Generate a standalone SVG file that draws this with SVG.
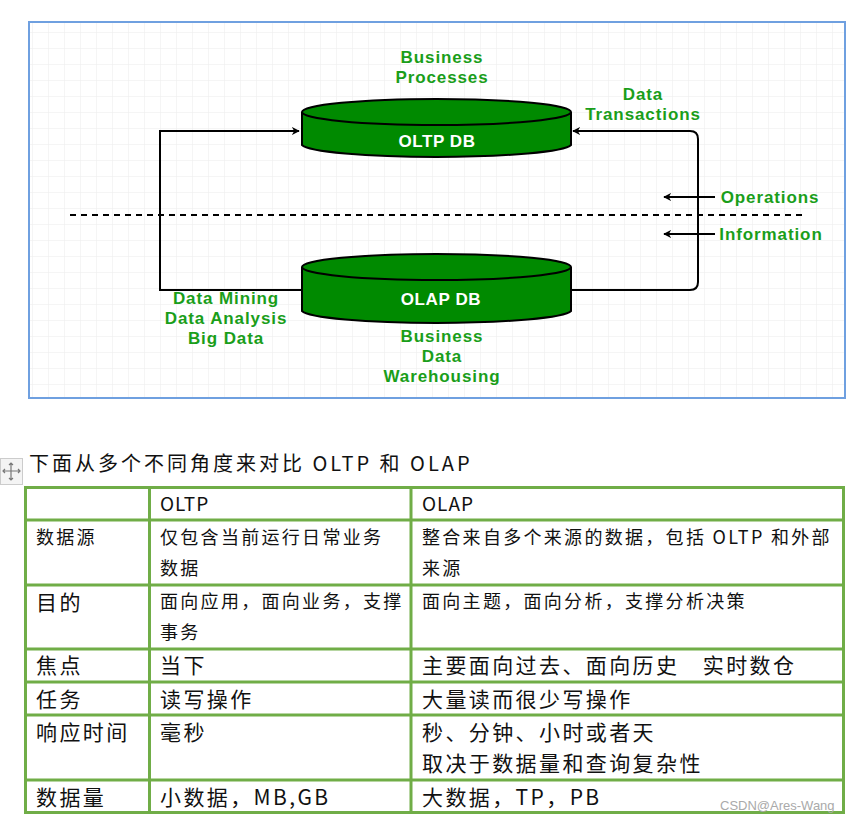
<svg xmlns="http://www.w3.org/2000/svg" width="857" height="825" viewBox="0 0 857 825">
<defs>
<pattern id="grid" width="16" height="16" patternUnits="userSpaceOnUse"><path d="M16 0H0V16" fill="none" stroke="#ebebeb" stroke-width="1"/></pattern>
<marker id="ah" viewBox="0 0 10 10" refX="9" refY="5" markerWidth="8" markerHeight="8" orient="auto" markerUnits="userSpaceOnUse"><path d="M0 0L10 5L0 10L3 5Z" fill="#000"/></marker>
<style>
.lbl{font-family:"Liberation Sans",Arial,sans-serif;font-weight:bold;font-size:17px;letter-spacing:0.9px;fill:#1a9e1a;text-anchor:middle}
.db{font-family:"Liberation Sans",Arial,sans-serif;font-weight:bold;font-size:17px;letter-spacing:0.6px;fill:#fff;text-anchor:middle}
.cyl{fill:#008a00;stroke:#000;stroke-width:2}
.ln{fill:none;stroke:#000;stroke-width:2}
.t{font-family:"Noto Sans CJK SC",sans-serif;fill:#111}
.s{font-size:18px;letter-spacing:2.3px}
.b{font-size:21px;letter-spacing:2.4px}
.g{fill:none;stroke:#70ad47;stroke-width:3}
</style>
</defs>
<rect x="0" y="0" width="857" height="825" fill="#fff"/>
<rect x="29" y="22" width="816" height="376" fill="url(#grid)" stroke="#6fa0e0" stroke-width="2"/>
<g id="connectors">
<path class="ln" d="M301 290H160V131H299" marker-end="url(#ah)"/>
<path class="ln" d="M571 290H690Q698 290 698 282V139Q698 131 690 131H573" marker-end="url(#ah)"/>
<line x1="70" y1="215" x2="805" y2="215" stroke="#000" stroke-width="2" stroke-dasharray="6,5"/>
<path class="ln" d="M715 197H664" marker-end="url(#ah)"/>
<path class="ln" d="M715 234H664" marker-end="url(#ah)"/>
</g>
<g id="oltp">
<path class="cyl" d="M302 112V145A135 13 0 0 0 571 145V112"/>
<ellipse class="cyl" cx="436.5" cy="112" rx="134.5" ry="13"/>
<text class="db" x="437" y="147">OLTP DB</text>
</g>
<g id="olap">
<path class="cyl" d="M302 267V311A135 13 0 0 0 571 311V267"/>
<ellipse class="cyl" cx="436.5" cy="267" rx="134.5" ry="13"/>
<text class="db" x="441" y="305">OLAP DB</text>
</g>
<g id="labels">
<text class="lbl" x="442" y="63">Business</text>
<text class="lbl" x="442" y="83">Processes</text>
<text class="lbl" x="643" y="100">Data</text>
<text class="lbl" x="643" y="120">Transactions</text>
<text class="lbl" x="770" y="203">Operations</text>
<text class="lbl" x="771" y="240">Information</text>
<text class="lbl" x="226" y="304">Data Mining</text>
<text class="lbl" x="226" y="324">Data Analysis</text>
<text class="lbl" x="226" y="344">Big Data</text>
<text class="lbl" x="442" y="342">Business</text>
<text class="lbl" x="442" y="362">Data</text>
<text class="lbl" x="442" y="382">Warehousing</text>
</g>
<g id="icon">
<rect x="0.5" y="458.5" width="22" height="26" fill="#f4f4f4" stroke="#ccc"/>
<path d="M11 463V480M3 471H20M9 465L11 463L13 465M9 478L11 480L13 478M5 469L3 471L5 473M18 469L20 471L18 473" fill="none" stroke="#777" stroke-width="1.2"/>
</g>
<text class="t" x="29" y="471" font-size="20" letter-spacing="3">下面从多个不同角度来对比 OLTP 和 OLAP</text>
<g id="table">
<rect class="g" x="25.5" y="487.5" width="818" height="325"/>
<path class="g" d="M149.5 487V813M411 487V813M25 520H844M25 585H844M25 649H844M25 682H844M25 715H844M25 780H844"/>
<text class="t" x="160" y="511" font-size="19" letter-spacing="1">OLTP</text>
<text class="t" x="422" y="511" font-size="19" letter-spacing="1">OLAP</text>
<text class="t s" x="36" y="544">数据源</text>
<text class="t s" x="160" y="544">仅包含当前运行日常业务</text>
<text class="t s" x="160" y="575">数据</text>
<text class="t s" x="422" y="544" letter-spacing="1.2">整合来自多个来源的数据，包括 OLTP 和外部</text>
<text class="t s" x="422" y="575">来源</text>
<text class="t b" x="36" y="610">目的</text>
<text class="t s" x="160" y="608">面向应用，面向业务，支撑</text>
<text class="t s" x="160" y="639">事务</text>
<text class="t s" x="422" y="608">面向主题，面向分析，支撑分析决策</text>
<text class="t b" x="36" y="673">焦点</text>
<text class="t b" x="160" y="673">当下</text>
<text class="t b" x="422" y="673">主要面向过去、面向历史　实时数仓</text>
<text class="t b" x="36" y="707">任务</text>
<text class="t b" x="160" y="707">读写操作</text>
<text class="t b" x="422" y="707">大量读而很少写操作</text>
<text class="t b" x="36" y="740">响应时间</text>
<text class="t b" x="160" y="740">毫秒</text>
<text class="t b" x="422" y="740">秒、分钟、小时或者天</text>
<text class="t b" x="422" y="771">取决于数据量和查询复杂性</text>
<text class="t b" x="36" y="805">数据量</text>
<text class="t b" x="160" y="805">小数据，MB,GB</text>
<text class="t b" x="422" y="805">大数据，TP，PB</text>
</g>
<text x="720" y="810" font-family="Liberation Sans,sans-serif" font-size="13" fill="#aaa">CSDN@Ares-Wang</text>
</svg>
